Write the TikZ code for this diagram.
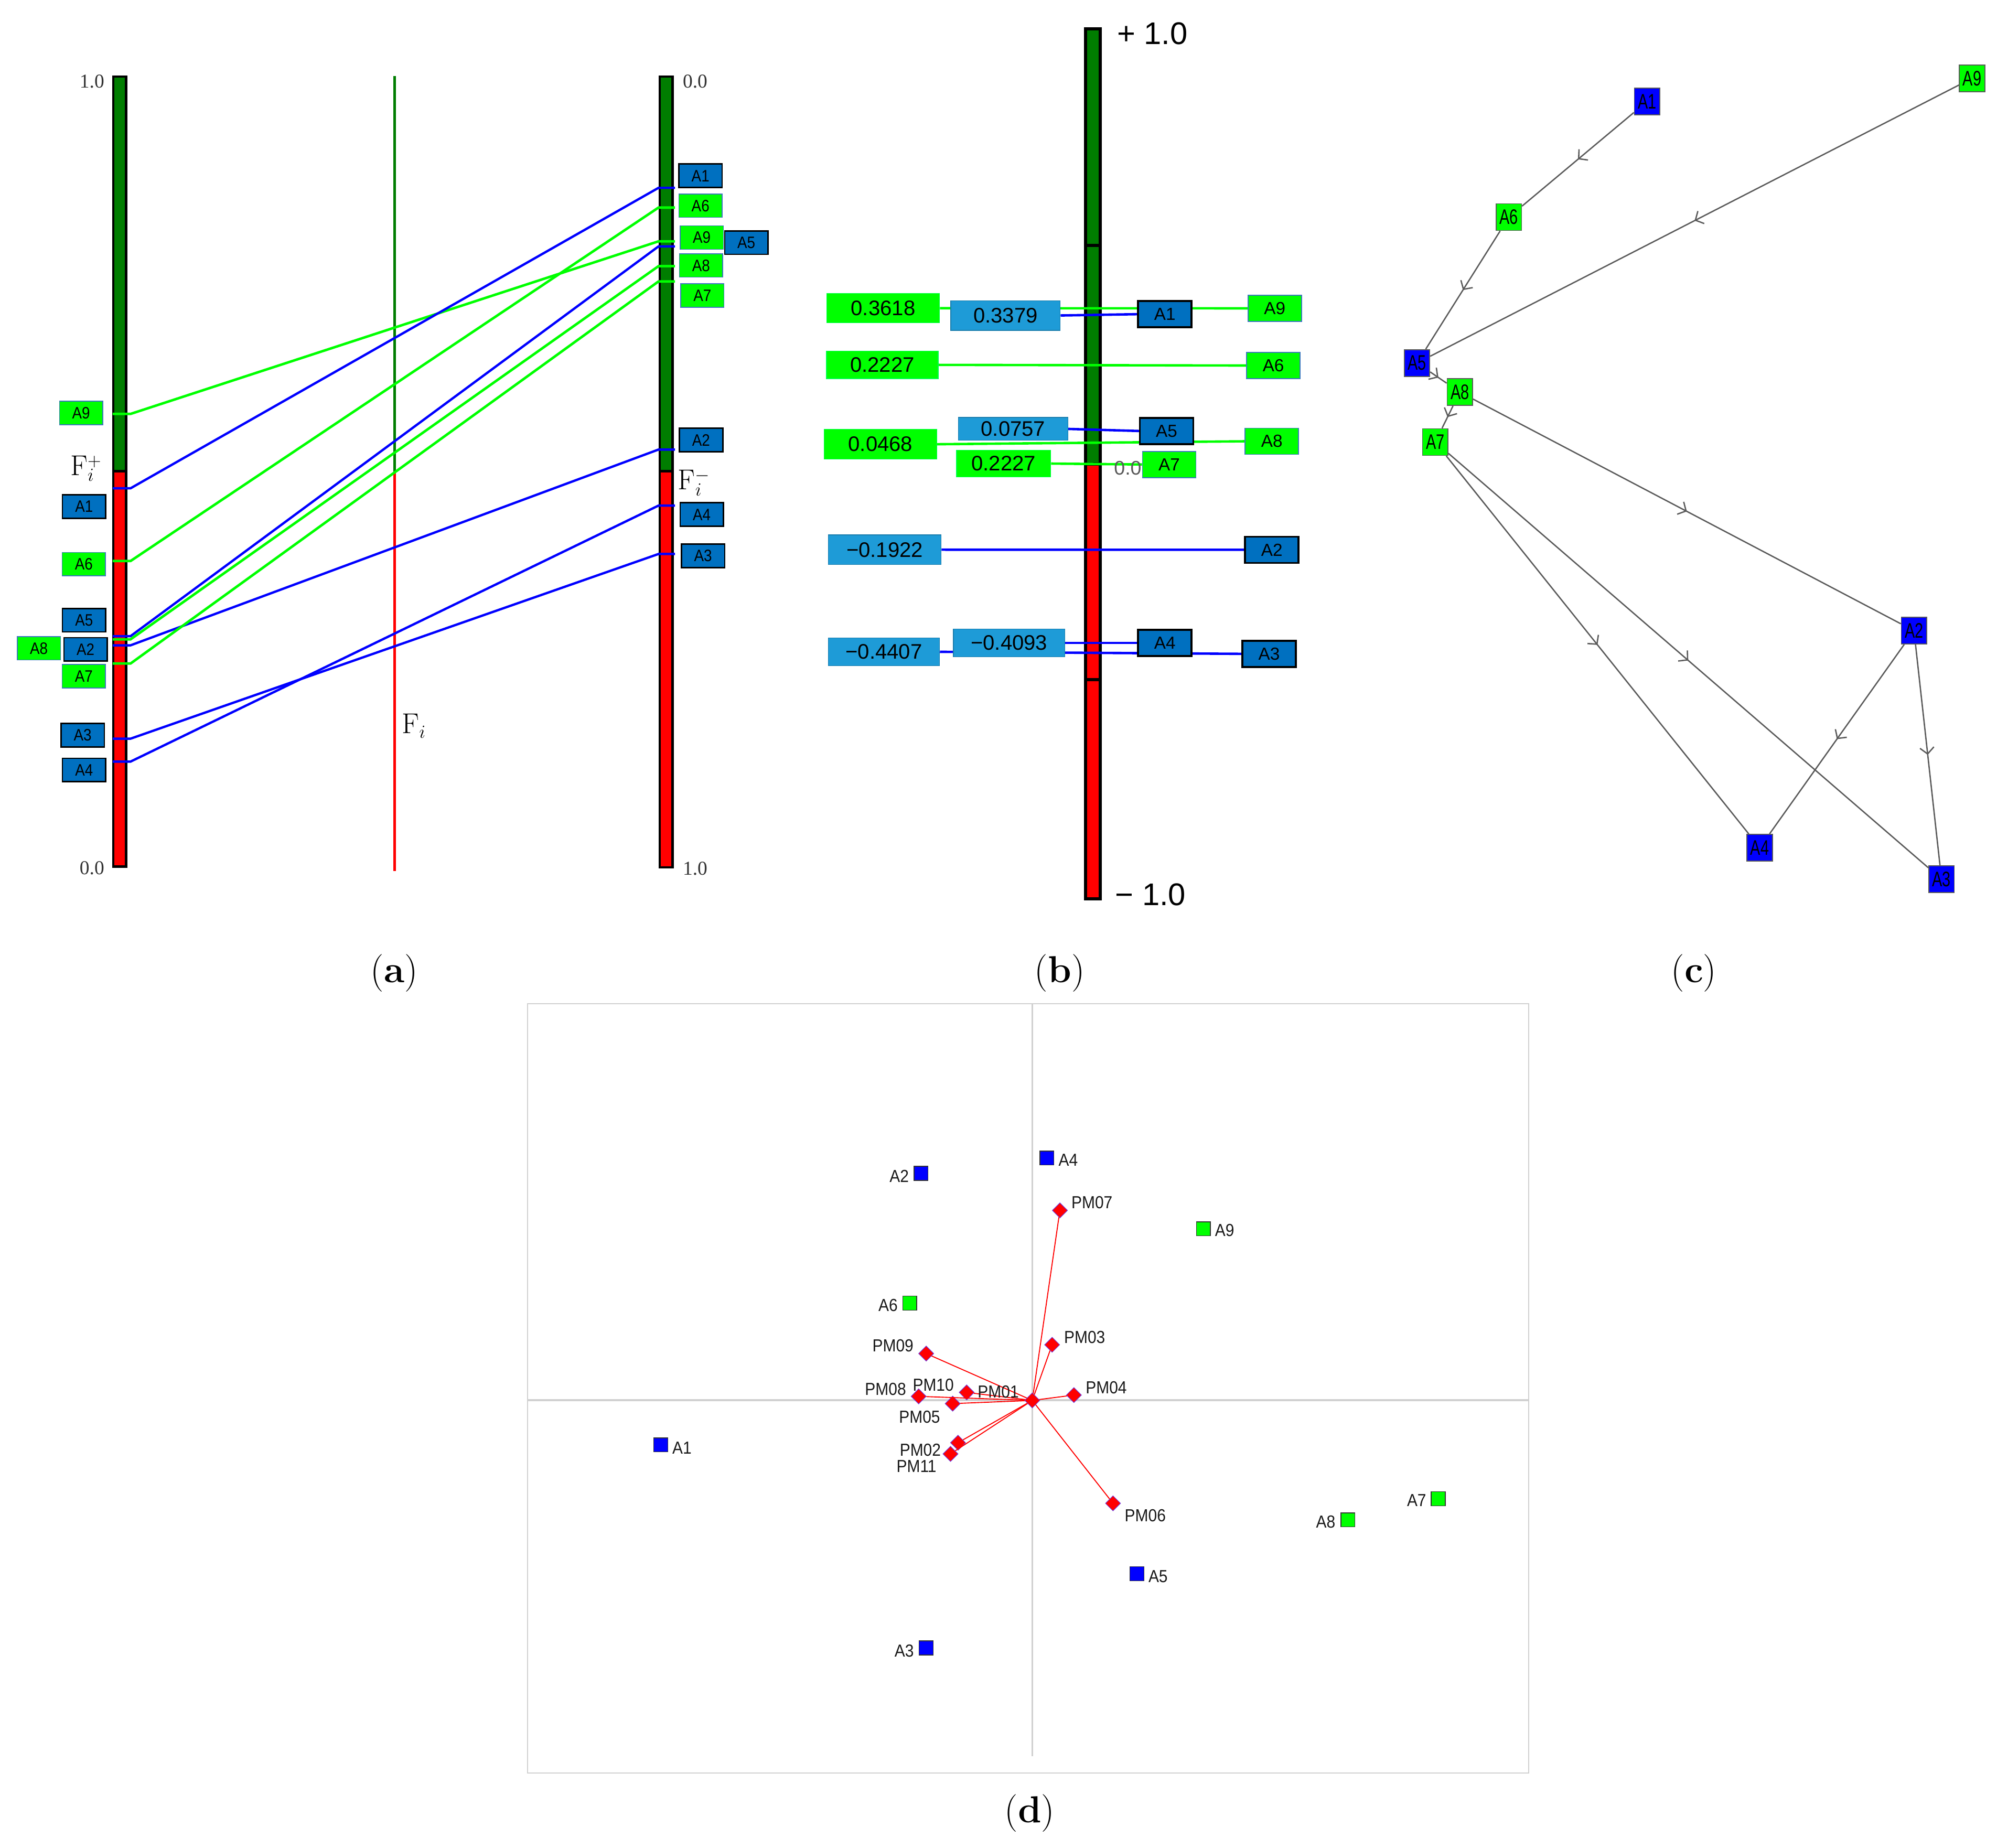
\documentclass[tikz,border=0pt]{standalone}
\usepackage{fontspec}
\newfontfamily\lsans{Liberation Sans}
\newfontfamily\lserif{Liberation Serif}
\usetikzlibrary{arrows.meta,decorations.markings,shapes.geometric}
\definecolor{dgreen}{RGB}{0,125,0}
\definecolor{lime}{RGB}{0,255,0}
\definecolor{pblue}{RGB}{0,0,255}
\definecolor{boxblue}{RGB}{0,112,192}
\definecolor{lblue}{RGB}{30,155,215}
\definecolor{gbord}{RGB}{60,120,190}
\definecolor{axgray}{RGB}{208,208,208}
\definecolor{edgegray}{RGB}{90,90,90}
\definecolor{dmd}{RGB}{110,60,230}
\pgfdeclarelayer{bg}
\pgfdeclarelayer{mid}
\pgfsetlayers{bg,mid,main}
\newcommand\cnd[1]{\scalebox{0.72}[1]{#1}}
\newcommand\dnd[1]{\scalebox{0.9}[1]{#1}}
\newcommand\anx[1]{\scalebox{0.88}[1]{#1}}
\begin{document}
\begin{tikzpicture}[x=0.05cm,y=-0.05cm,
  abb/.style={draw=black, line width=1.6pt, fill=boxblue, minimum width=1.7cm, minimum height=0.92cm, inner sep=0pt, font=\lsans\fontsize{18.5pt}{20pt}\selectfont},
  abg/.style={abb, draw=gbord, line width=0.9pt, fill=lime},
  bline/.style={pblue, line width=2.6pt},
  gline/.style={lime, line width=2.8pt},
  sc/.style={font=\lserif\fontsize{22pt}{24pt}\selectfont, text=black!80, inner sep=0pt},
  fl/.style={font=\fontsize{32pt}{34pt}\selectfont, inner sep=0pt},
  vbox/.style={inner sep=0pt, font=\lsans\fontsize{23.5pt}{26pt}\selectfont},
  vg/.style={vbox, fill=lime, draw=lime!70!cyan, line width=0.8pt},
  vb/.style={vbox, fill=lblue, draw=lblue!80!black, line width=0.8pt},
  rbb/.style={draw=black, line width=2pt, fill=boxblue, minimum width=2.1cm, minimum height=1.03cm, inner sep=0pt, font=\lsans\fontsize{19.5pt}{21pt}\selectfont},
  rbg/.style={rbb, draw=gbord, line width=1pt, fill=lime},
  bl2/.style={pblue, line width=2.7pt},
  gl2/.style={lime, line width=2.7pt},
  big/.style={font=\lsans\fontsize{35pt}{38pt}\selectfont, inner sep=0pt},
  cb/.style={draw=edgegray, line width=1pt, fill=pblue, minimum width=1cm, minimum height=1.05cm, inner sep=0pt, font=\lsans\fontsize{23.5pt}{25pt}\selectfont},
  cg/.style={cb, fill=lime},
  cedge/.style={edgegray, line width=1.5pt, postaction={decorate},
    decoration={markings, mark=at position 0.5 with {\arrow{Straight Barb[length=0.25cm,width=0.55cm]}}}},
  sq/.style={draw=black!80, line width=0.9pt, minimum size=0.55cm, inner sep=0pt},
  sqb/.style={sq, fill=pblue},
  sqg/.style={sq, fill=lime},
  dm/.style={diamond, aspect=1, fill=red, draw=dmd, line width=0.6pt, minimum width=0.6cm, minimum height=0.6cm, inner sep=0pt},
  dlab/.style={inner sep=0pt, text=black!90, font=\lsans\fontsize{19.5pt}{21pt}\selectfont},
  rl/.style={red, line width=1.1pt},
  captxt/.style={font=\fontsize{42pt}{46pt}\selectfont, inner sep=0pt}
]
\useasboundingbox (0,0) rectangle (1568,1451);

% ================= panel (a) =================
\begin{pgfonlayer}{bg}
\filldraw[fill=dgreen, draw=black, line width=2.6pt] (89,60) rectangle (99,370);
\filldraw[fill=red, draw=black, line width=2.6pt] (89,370) rectangle (99,680.5);
\filldraw[fill=dgreen, draw=black, line width=2.6pt] (518,60) rectangle (528,370);
\filldraw[fill=red, draw=black, line width=2.6pt] (518,370) rectangle (528,681);
\draw[dgreen, line width=3pt] (310,59.5) -- (310,370);
\draw[red, line width=3pt] (310,370) -- (310,684);
\end{pgfonlayer}

\coordinate (lA9) at (88.5,325);   \coordinate (rA9) at (530,189.5);
\coordinate (lA1) at (88.5,383.4); \coordinate (rA1) at (530,147.5);
\coordinate (lA6) at (88.5,440.5); \coordinate (rA6) at (530,163);
\coordinate (lA5) at (88.5,499.5); \coordinate (rA5) at (530,193.5);
\coordinate (lA8) at (88.5,502);   \coordinate (rA8) at (530,209);
\coordinate (lA2) at (88.5,506.7); \coordinate (rA2) at (530,353);
\coordinate (lA7) at (88.5,521);   \coordinate (rA7) at (530,221);
\coordinate (lA3) at (88.5,580);   \coordinate (rA3) at (530,435);
\coordinate (lA4) at (88.5,598);   \coordinate (rA4) at (530,397);

\draw[gline] (lA9) -- ++(14,0) -- ([xshift=-0.65cm]rA9) -- (rA9);
\draw[bline] (lA1) -- ++(14,0) -- ([xshift=-0.65cm]rA1) -- (rA1);
\draw[gline] (lA6) -- ++(14,0) -- ([xshift=-0.65cm]rA6) -- (rA6);
\draw[bline] (lA5) -- ++(14,0) -- ([xshift=-0.65cm]rA5) -- (rA5);
\draw[gline] (lA8) -- ++(14,0) -- ([xshift=-0.65cm]rA8) -- (rA8);
\draw[bline] (lA2) -- ++(14,0) -- ([xshift=-0.65cm]rA2) -- (rA2);
\draw[gline] (lA7) -- ++(14,0) -- ([xshift=-0.65cm]rA7) -- (rA7);
\draw[bline] (lA3) -- ++(14,0) -- ([xshift=-0.65cm]rA3) -- (rA3);
\draw[bline] (lA4) -- ++(14,0) -- ([xshift=-0.65cm]rA4) -- (rA4);

\node[abg] (la9) at (63.7,324.3) {\anx{A9}};
\node[abb] (la1) at (66,397.8) {\anx{A1}};
\node[abg] (la6) at (65.8,443) {\anx{A6}};
\node[abb] (la5) at (66,487) {\anx{A5}};
\node[abb] (la2) at (67.2,509.9) {\anx{A2}};
\node[abg] (la8) at (30.5,509) {\anx{A8}};
\node[abg] (la7) at (65.8,531) {\anx{A7}};
\node[abb] (la3) at (64.9,577.3) {\anx{A3}};
\node[abb] (la4) at (66,604.6) {\anx{A4}};

\node[abb] (ra1) at (550,138) {\anx{A1}};
\node[abg] (ra6) at (550,161.5) {\anx{A6}};
\node[abg] (ra9) at (551,186.5) {\anx{A9}};
\node[abb] (ra5) at (586,190.5) {\anx{A5}};
\node[abg] (ra8) at (550.5,208.5) {\anx{A8}};
\node[abg] (ra7) at (551.5,232) {\anx{A7}};
\node[abb] (ra2) at (550.5,345.5) {\anx{A2}};
\node[abb] (ra4) at (551,404) {\anx{A4}};
\node[abb] (ra3) at (552,436.5) {\anx{A3}};

\node[sc, anchor=east] (s1) at (82,64) {1.0};
\node[sc, anchor=east] (s2) at (82,681.5) {0.0};
\node[sc, anchor=west] (s3) at (536,64) {0.0};
\node[sc, anchor=west] (s4) at (536,682) {1.0};
\node[fl] (fp) at (67.5,368) {$\mathrm{F}_i^{+}$};
\node[fl] (fm) at (545,379) {$\mathrm{F}_i^{-}$};
\node[fl] (fi) at (325,570) {$\mathrm{F}_i$};

% ================= panel (b) =================
\begin{pgfonlayer}{bg}
\filldraw[fill=dgreen, draw=black, line width=3.5pt] (852.3,22.5) rectangle (863.7,364.6);
\filldraw[fill=red, draw=black, line width=3.5pt] (852.3,364.6) rectangle (863.7,705.7);
\draw[line width=3.5pt] (852.3,192.6) -- (863.7,192.6);
\draw[line width=3.5pt] (852.3,533.7) -- (863.7,533.7);
\end{pgfonlayer}

\node[big, anchor=west] (pone) at (877,26.5) {+ 1.0};
\node[big, anchor=west] (mone) at (875.5,702.6) {− 1.0};

\node[vg, minimum width=4.43cm, minimum height=1.15cm] (v1) at (693.4,242) {0.3618};
\node[vb, minimum width=4.3cm, minimum height=1.165cm] (v2) at (789.5,247.7) {0.3379};
\node[vg, minimum width=4.38cm, minimum height=1.075cm] (v3) at (692.8,286.5) {0.2227};
\node[vb, minimum width=4.3cm, minimum height=0.9cm] (v4) at (795.5,336.8) {0.0757};
\node[vg, minimum width=4.43cm, minimum height=1.175cm] (v5) at (691.3,348.8) {0.0468};
\node[vg, minimum width=3.7cm, minimum height=1.05cm] (v6) at (788,364) {0.2227};
\node[vb, minimum width=4.43cm, minimum height=1.16cm] (v7) at (694.7,431.6) {−0.1922};
\node[vb, minimum width=4.37cm, minimum height=1.085cm] (v8) at (694,511.8) {−0.4407};
\node[vb, minimum width=4.37cm, minimum height=1.1cm] (v9) at (792.3,504.8) {−0.4093};

\node[anchor=west, inner sep=0pt, text=black!65, font=\lsans\fontsize{22pt}{24pt}\selectfont] (z0) at (874.6,367.4) {0.0};

\node[rbg] (b9) at (1000.9,242.1) {A9};
\node[rbb] (b1) at (914.6,246.7) {A1};
\node[rbg] (b6) at (999.8,287) {A6};
\node[rbb] (b5) at (916,338.4) {A5};
\node[rbg] (b8) at (998.6,346.5) {A8};
\node[rbg] (b7) at (918,364.7) {A7};
\node[rbb] (b2) at (998.6,431.7) {A2};
\node[rbb] (b4) at (914.6,504.8) {A4};
\node[rbb] (b3) at (996.5,513.4) {A3};

\begin{pgfonlayer}{mid}
\draw[gl2] (v1.east) -- (b9.west);
\draw[bl2] (v2.east) -- (b1.west);
\draw[gl2] (v3.east) -- (b6.west);
\draw[bl2] (v4.east) -- (b5.west);
\draw[gl2] (v5.east) -- (b8.west);
\draw[gl2] (v6.east) -- (b7.west);
\draw[bl2] (v7.east) -- (b2.west);
\draw[bl2] (v9.east) -- (b4.west);
\draw[bl2] (v8.east) -- (b3.west);
\end{pgfonlayer}

% ================= panel (c) =================
\node[cb] (c1) at (1293.2,79.7) {\cnd{A1}};
\node[cg] (c9) at (1548.4,61.5) {\cnd{A9}};
\node[cg] (c6) at (1184.7,170.5) {\cnd{A6}};
\node[cb] (c5) at (1112.6,285) {\cnd{A5}};
\node[cg] (c8) at (1146.2,307.9) {\cnd{A8}};
\node[cg] (c7) at (1126.9,347.1) {\cnd{A7}};
\node[cb] (c2) at (1502.8,495.2) {\cnd{A2}};
\node[cb] (c4) at (1381.7,665.6) {\cnd{A4}};
\node[cb] (c3) at (1524.4,690.2) {\cnd{A3}};
\draw[cedge] (c1) -- (c6);
\draw[cedge] (c6) -- (c5);
\draw[cedge] (c9) -- (c5);
\draw[cedge] (c5) -- (c8);
\draw[cedge] (c8) -- (c7);
\draw[cedge] (c8) -- (c2);
\draw[cedge] (c7) -- (c4);
\draw[cedge] (c7) -- (c3);
\draw[cedge] (c2) -- (c4);
\draw[cedge] (c2) -- (c3);

% ================= panel (d) =================
\draw[axgray, line width=1.3pt] (414.3,788.2) rectangle (1200.4,1392.1);
\draw[axgray, line width=1.8pt] (810.7,788.2) -- (810.7,1379);
\draw[axgray, line width=1.8pt] (414.3,1099.4) -- (1200.4,1099.4);

\node[sqb] (dA4) at (822,909.2) {};
\node[sqb] (dA2) at (723.2,921.3) {};
\node[sqg] (dA9) at (944.9,964.8) {};
\node[sqg] (dA6) at (714.3,1023.2) {};
\node[sqb] (dA1) at (518.8,1134.5) {};
\node[sqg] (dA7) at (1129.2,1176.8) {};
\node[sqg] (dA8) at (1058.3,1193.4) {};
\node[sqb] (dA5) at (892.7,1235.7) {};
\node[sqb] (dA3) at (727.2,1294) {};

\node[dlab] (tA4) at (838.7,911) {\dnd{A4}};
\node[dlab] (tA2) at (706,923.4) {\dnd{A2}};
\node[dlab] (tA9) at (961.5,966) {\dnd{A9}};
\node[dlab] (tA6) at (697.3,1025) {\dnd{A6}};
\node[dlab] (tA1) at (535.5,1136.8) {\dnd{A1}};
\node[dlab] (tA7) at (1112.3,1178.2) {\dnd{A7}};
\node[dlab] (tA8) at (1040.9,1195) {\dnd{A8}};
\node[dlab] (tA5) at (909.3,1238) {\dnd{A5}};
\node[dlab] (tA3) at (710,1296.4) {\dnd{A3}};

\coordinate (Oc) at (810.5,1099.6);
\node[dm] (pm07) at (832.2,950.4) {};
\node[dm] (pm03) at (826.1,1055.9) {};
\node[dm] (pm04) at (843.2,1095.4) {};
\node[dm] (pm09) at (727.2,1062.8) {};
\node[dm] (pm08) at (721.3,1096.4) {};
\node[dm] (pm01) at (759,1093.3) {};
\node[dm] (pm05) at (748,1102.1) {};
\node[dm] (pm02) at (752.2,1132.8) {};
\node[dm] (pm11) at (746.3,1141.6) {};
\node[dm] (pm06) at (873.9,1180.4) {};
\foreach \p in {pm07,pm03,pm04,pm09,pm08,pm01,pm05,pm02,pm11,pm06}
  \draw[rl] (Oc) -- (\p);
\node[dm] (org) at (Oc) {};

\node[dlab] (tpm07) at (857.4,944.1) {\dnd{PM07}};
\node[dlab] (tpm03) at (851.6,1050) {\dnd{PM03}};
\node[dlab] (tpm04) at (868.6,1089.7) {\dnd{PM04}};
\node[dlab] (tpm09) at (701.1,1056.7) {\dnd{PM09}};
\node[dlab] (tpm08) at (695.3,1090.8) {\dnd{PM08}};
\node[dlab] (tpm10) at (732.8,1087.5) {\dnd{PM10}};
\node[dlab] (tpm01) at (783.8,1093) {\dnd{PM01}};
\node[dlab] (tpm05) at (722,1112.4) {\dnd{PM05}};
\node[dlab] (tpm02) at (722.6,1138.6) {\dnd{PM02}};
\node[dlab] (tpm11) at (719.6,1151.3) {\dnd{PM11}};
\node[dlab] (tpm06) at (899.2,1189.9) {\dnd{PM06}};

% ================= captions =================
\node[captxt] (capa) at (309.5,764) {(\textbf{a})};
\node[captxt] (capb) at (832,764) {(\textbf{b})};
\node[captxt] (capc) at (1330,764) {(\textbf{c})};
\node[captxt] (capd) at (808.5,1423.5) {(\textbf{d})};
\end{tikzpicture}
\end{document}
